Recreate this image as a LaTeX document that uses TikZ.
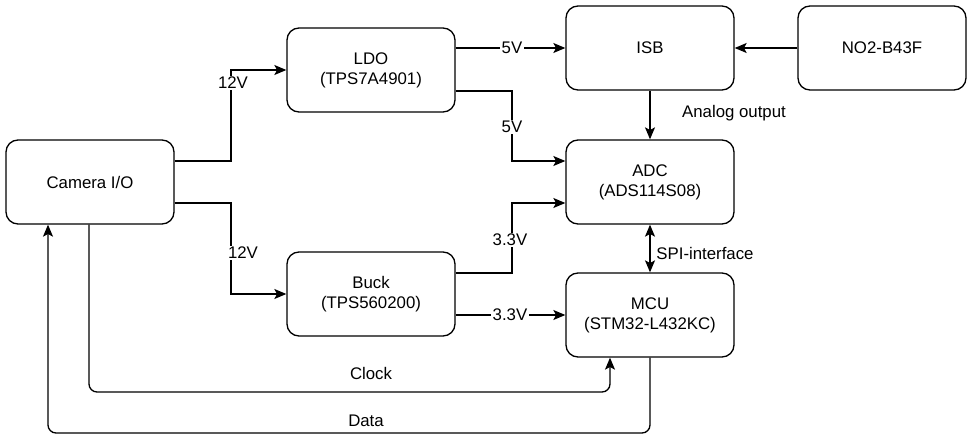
\documentclass[tikz,border=0pt]{standalone}
\usepackage{fontspec}
\setmainfont{Liberation Sans}
\usetikzlibrary{arrows.meta,calc}
\tikzstyle{blk}=[rectangle,rounded corners=9pt,draw=black,line width=1pt,
  minimum width=126pt,minimum height=63pt,align=center,
  font=\fontsize{12.6}{15}\selectfont]
\tikzstyle{lbl}=[fill=white,inner sep=1pt,font=\fontsize{12.6}{15}\selectfont]
\tikzstyle{txt}=[inner sep=1pt,font=\fontsize{12.6}{15}\selectfont]
\tikzstyle{wire}=[line width=1pt,-{Stealth[length=9pt,width=7.5pt,inset=2pt]}]
\tikzstyle{bus}=[line width=1pt,{Stealth[length=9pt,width=7.5pt,inset=2pt]}-{Stealth[length=9pt,width=7.5pt,inset=2pt]}]
\begin{document}
\begin{tikzpicture}[x=0.75pt,y=-0.75pt]
    \useasboundingbox (0,0) rectangle (967,435);
    \node [style=blk] (cam) at (90,182) {Camera I/O};
    \node [style=blk] (ldo) at (371,70) {LDO\\(TPS7A4901)};
    \node [style=blk] (buck) at (371,294) {Buck\\(TPS560200)};
    \node [style=blk] (isb) at (650,48) {ISB};
    \node [style=blk] (no2) at (882,48) {NO2-B43F};
    \node [style=blk] (adc) at (650,182) {ADC\\(ADS114S08)};
    \node [style=blk] (mcu) at (650,315) {MCU\\(STM32-L432KC)};
    \draw [style=wire] ($(cam.east)+(0,-21)$) -| (231,70) to (ldo.west);
    \draw [style=wire] ($(cam.east)+(0,21)$) -| (231,294) to (buck.west);
    \draw [style=wire] (ldo.east |- isb.west) to (isb.west);
    \draw [style=wire] ($(ldo.east)+(0,21)$) -| (512,161) to ($(adc.west)+(0,-21)$);
    \draw [style=wire] ($(buck.east)+(0,-21)$) -| (512,203) to ($(adc.west)+(0,21)$);
    \draw [style=wire] ($(buck.east)+(0,21)$) to (mcu.west);
    \draw [style=wire] (no2.west) to (isb.east);
    \draw [style=wire] (isb.south) to (adc.north);
    \draw [style=bus] (adc.south) to (mcu.north);
    \draw [style=wire,rounded corners=6pt] (cam.south -| 89,0) -- (89,392) -- (610,392) -- (mcu.south -| 610,0);
    \draw [style=wire,rounded corners=6pt] (mcu.south) -- (650,433) -- (48,433) -- (cam.south -| 48,0);
    \node [style=lbl] (v12a) at (233,83) {12V};
    \node [style=lbl] (v12b) at (243,253) {12V};
    \node [style=lbl] (v5a) at (512,48) {5V};
    \node [style=lbl] (v5b) at (512,127) {5V};
    \node [style=lbl] (v33a) at (510,240) {3.3V};
    \node [style=lbl] (v33b) at (510,315) {3.3V};
    \node [style=txt] (ana) at (734,113) {Analog output};
    \node [style=txt] (spi) at (705,253) {SPI-interface};
    \node [style=txt] (clk) at (371,373) {Clock};
    \node [style=txt] (dat) at (366,421) {Data};
\end{tikzpicture}
\end{document}
